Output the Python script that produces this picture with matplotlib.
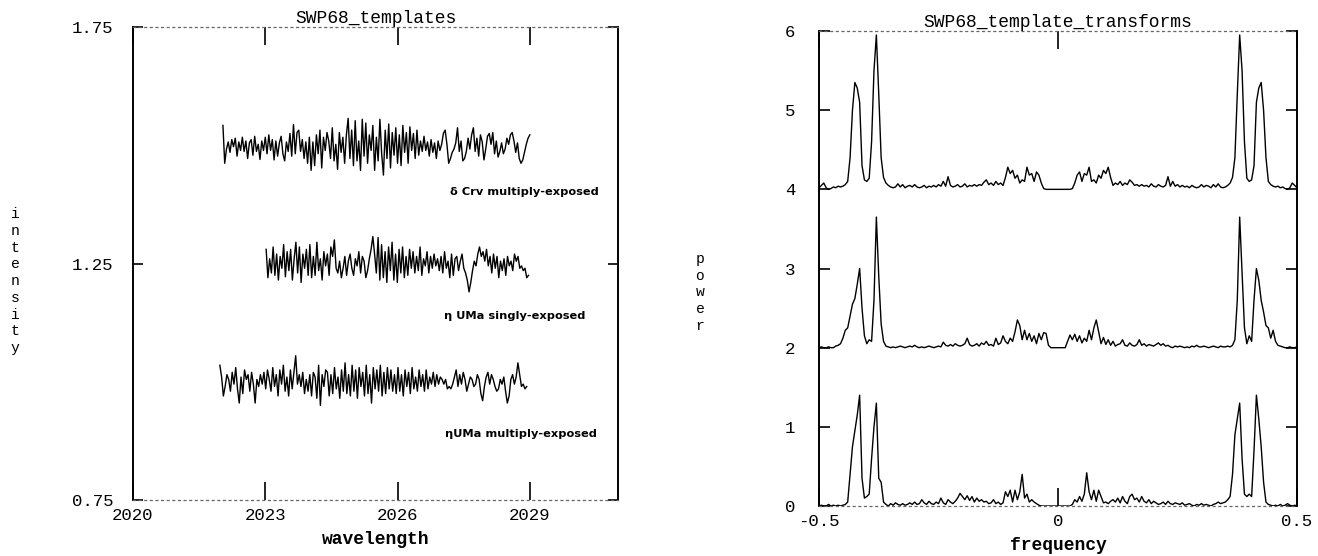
import numpy as np
import matplotlib
matplotlib.use("Agg")
import matplotlib.pyplot as plt

# ---- left panel: SWP68 templates (deviations from each trace base, in 0.001 intensity)
dcrv_range = (2022.04, 2029.0)
dcrv_base = 1.497
dcrv_dev = [
    45, -35, -5, 10, -12, 15, 0, 18, -20, 10, -8, 20, -10, 12, -25, 8, 15, -18, 22, -10, 5, -27, 12, -8, 20,
    -15, 25, -8, 15, -28, 12, -20, 8, 22, -15, -30, 10, -10, 28, -20, 47, -15, 30, 35, -10, 15, -25, 10, -35, 20,
    -50, 10, -40, 25, -15, 35, -45, 20, -8, 30, 12, -25, 40, -30, 5, -48, 30, -12, 20, -35, 25, 60, -25, 35, -40,
    55, -30, 12, -50, 58, -20, 50, -35, 25, -8, 45, -50, 20, -30, 58, -15, -60, 35, -25, 48, -45, 30, -18, 40, -35,
    25, -40, 45, -12, 30, -35, 42, -8, 28, -25, 35, -18, 12, -10, 22, -8, 10, -20, 15, -12, 8, -25, 12, -8, 5,
    28, 35, 5, -35, -25, -12, -5, 8, 40, -10, 12, -30, -25, -10, 18, -5, 25, 40, -10, 18, -20, 25, 10, -28, -5,
    22, 28, 5, 30, -15, 12, -22, -10, 8, -15, -5, 18, 5, 25, 30, 12, -12, 8, -25, -35, -28, -12, 5, 18, 25,
]

uma_single_range = (2023.02, 2028.97)
uma_single_base = 1.25
uma_single_dev = [
    30, -30, 10, -20, 35, -25, 20, -35, 15, -10, 40, -28, 25, -15, 30, -35, 10, 45, -20, 35, -40, 20, -10, 30, -25,
    40, -30, 15, -25, 45, -15, 10, -35, 25, -5, 20, -25, 35, 15, 50, -10, -20, 5, -30, -10, 15, -25, 5, 20, -10,
    -25, 10, -5, 25, -20, 15, 5, -30, -15, 10, 30, 57, 20, -20, 55, -35, 40, -30, 25, -40, 35, -15, 45, -35, 20,
    -40, 30, -20, 35, -30, 15, -25, 30, -10, 25, -20, 15, -15, 35, -25, 10, -5, 25, -20, 15, -10, 20, -5, 10, -15,
    15, -20, 25, -10, 5, -30, 20, -25, 10, 15, -15, 5, 20, -10, -20, -35, -60, -40, -15, 5, -5, 20, 35, 15, 25,
    5, 30, -5, 15, -20, 20, -10, 15, -30, 5, -15, 10, -25, 15, -5, 5, -15, 20, 5, 15, -10, -5, -15, -10, -30,
    -25,
]

uma_multi_range = (2021.97, 2028.93)
uma_multi_base = 1.0
uma_multi_dev = [
    35, 10, -30, -10, 15, 5, -20, 20, -5, 30, -15, -45, 10, -25, 25, 5, 15, -20, 20, -5, -45, 5, -10, 15, -5,
    20, -15, 25, 5, -20, 30, -10, 15, -30, 25, -5, 35, -20, 10, -30, 25, -15, 20, 55, -5, 15, -10, 20, -25, 5,
    -20, 15, -30, 20, 10, -35, 35, -50, 15, -10, 25, 20, -30, 15, -25, 30, -15, 10, -35, 25, -20, 40, -25, 15, -30,
    35, -20, 25, -35, 30, -10, 20, -30, 35, -25, 15, -45, 30, -15, 25, -20, 35, -30, 20, -25, 30, -15, 25, -20, 15,
    -25, 30, -20, 15, -30, 25, -10, 20, -25, 30, -15, 10, -20, 25, -10, 15, -20, 25, -15, 10, -5, 20, -10, 15, -5,
    10, 5, -5, 5, -15, -10, -15, -5, 10, 25, -10, 15, -5, 20, 5, -20, -5, 10, 5, -10, -5, 15, 5, -25, -40,
    -10, 10, 20, -5, 15, 5, -10, -20, -15, 5, -5, 10, -20, -45, -30, 5, 15, -5, 10, 40, 15, -10, -5, -15, -10,
]

template_labels = ["δ Crv multiply-exposed", "η UMa singly-exposed", "ηUMa multiply-exposed"]
label_pos = [(2027.19, 1.401), (2027.05, 1.140), (2027.07, 0.890)]

# ---- right panel: transforms (power above each offset, in 0.01), frequency -0.5..0.5
transform_offsets = [4, 2, 0]
power_dcrv = [
    2, 5, 8, 2, 0, 1, 3, 2, 4, 3,
    4, 6, 10, 40, 100, 135, 128, 110, 30, 12,
    10, 14, 60, 150, 195, 120, 40, 15, 8, 5,
    3, 2, 3, 7, 3, 6, 2, 4, 5, 3,
    6, 3, 2, 3, 5, 2, 4, 3, 5, 3,
    6, 4, 10, 4, 16, 5, 3, 4, 6, 3,
    4, 7, 3, 5, 4, 6, 4, 6, 5, 9,
    12, 6, 8, 5, 10, 6, 8, 5, 15, 28,
    20, 24, 14, 18, 8, 12, 10, 28, 18, 20,
    10, 22, 18, 8, 1, 0, 0, 0, 0, 0,
    0, 0, 0, 0, 0, 0, 1, 8, 18, 22,
    10, 20, 18, 28, 10, 12, 8, 18, 14, 24,
    20, 28, 15, 5, 8, 6, 10, 5, 8, 6,
    12, 9, 5, 6, 4, 6, 4, 5, 3, 7,
    4, 3, 6, 4, 3, 5, 16, 4, 10, 4,
    6, 3, 5, 3, 4, 2, 5, 3, 2, 3,
    6, 3, 5, 4, 2, 6, 3, 7, 3, 2,
    3, 5, 8, 15, 40, 120, 195, 150, 60, 14,
    10, 12, 30, 110, 128, 135, 100, 40, 10, 6,
    4, 3, 4, 2, 3, 1, 0, 2, 8, 5,
    2,
]
power_uma_single = [
    0, 1, 0, 0, 1, 0, 0, 2, 3, 5,
    12, 22, 25, 40, 55, 62, 80, 100, 50, 15,
    5, 10, 8, 60, 165, 90, 30, 8, 2, 1,
    0, 1, 0, 1, 2, 1, 0, 1, 2, 1,
    3, 1, 0, 1, 0, 1, 2, 1, 0, 1,
    2, 1, 7, 3, 2, 4, 2, 5, 3, 2,
    3, 5, 12, 4, 2, 3, 5, 2, 6, 4,
    8, 3, 4, 2, 12, 4, 6, 15, 8, 5,
    12, 8, 20, 35, 28, 10, 22, 10, 18, 8,
    15, 5, 18, 10, 19, 18, 3, 0, 0, 0,
    0, 0, 0, 0, 8, 16, 10, 17, 8, 15,
    6, 12, 8, 22, 10, 25, 35, 20, 5, 13,
    4, 10, 3, 8, 2, 4, 5, 10, 3, 2,
    6, 3, 2, 4, 10, 3, 5, 2, 4, 3,
    2, 4, 6, 3, 5, 2, 3, 1, 0, 2,
    1, 2, 1, 0, 1, 0, 2, 1, 3, 1,
    1, 2, 1, 0, 1, 2, 1, 0, 2, 1,
    1, 2, 1, 3, 10, 60, 165, 95, 25, 5,
    15, 8, 60, 100, 85, 60, 45, 28, 25, 12,
    22, 8, 3, 2, 1, 0, 0, 1, 0, 0,
    1,
]
power_uma_multi = [
    0, 1, 0, 0, 2, 0, 1, 0, 1, 0,
    1, 2, 5, 40, 75, 95, 115, 140, 35, 10,
    12, 15, 60, 100, 130, 35, 30, 5, 2, 0,
    3, 1, 4, 2, 1, 3, 1, 2, 4, 2,
    5, 2, 3, 8, 4, 2, 6, 3, 2, 5,
    3, 10, 4, 2, 8, 5, 3, 6, 10, 16,
    12, 8, 13, 7, 12, 5, 10, 6, 8, 5,
    6, 3, 4, 8, 3, 5, 2, 4, 18, 12,
    20, 5, 20, 8, 18, 40, 10, 15, 5, 8,
    5, 3, 1, 0, 0, 0, 0, 0, 0, 0,
    0, 0, 0, 0, 0, 0, 2, 8, 5, 12,
    6, 15, 42, 18, 8, 20, 6, 20, 12, 4,
    5, 3, 6, 8, 5, 10, 4, 12, 6, 3,
    12, 15, 8, 10, 5, 12, 6, 4, 8, 3,
    6, 4, 2, 3, 5, 2, 6, 3, 2, 4,
    3, 2, 4, 1, 2, 3, 1, 0, 2, 1,
    3, 1, 2, 1, 0, 2, 3, 5, 3, 4,
    5, 8, 12, 40, 90, 110, 130, 60, 15, 12,
    15, 12, 70, 140, 110, 75, 30, 5, 2, 1,
    0, 1, 0, 2, 0, 1, 3, 1, 0, 1,
    0,
]

plt.rcParams["font.family"] = ["Liberation Mono", "DejaVu Sans Mono"]


def style_axes(ax):
    for side in ("left", "right"):
        ax.spines[side].set_linewidth(1.4)
    for side in ("top", "bottom"):
        ax.spines[side].set_linestyle((0, (1.5, 3)))
        ax.spines[side].set_linewidth(0.9)
        ax.spines[side].set_color("0.4")
    ax.tick_params(direction="in", top=True, right=True, labelsize=12.5, width=1.2)
    ax.tick_params(axis="x", length=13, pad=6)


fig = plt.figure(figsize=(13.18, 5.56), dpi=100)
ax1 = fig.add_axes([0.1009, 0.1007, 0.368, 0.8507])
ax2 = fig.add_axes([0.6214, 0.0899, 0.3627, 0.8543])

# left panel
traces = [(dcrv_range, dcrv_base, dcrv_dev),
          (uma_single_range, uma_single_base, uma_single_dev),
          (uma_multi_range, uma_multi_base, uma_multi_dev)]
for (lo, hi), base, dev in traces:
    wl = np.linspace(lo, hi, len(dev))
    ax1.plot(wl, base + np.array(dev) / 1000.0, color="black", lw=1.0)

for label, (lx, ly) in zip(template_labels, label_pos):
    ax1.text(lx, ly, label, ha="left", va="center", fontsize=8.2, fontweight="bold",
             family=["Liberation Sans Narrow", "DejaVu Sans"])

ax1.set_xlim(2020, 2031)
ax1.set_ylim(0.75, 1.75)
ax1.set_xticks([2020, 2023, 2026, 2029])
ax1.set_yticks([0.75, 1.25, 1.75])
ax1.set_yticklabels(["0.75", "1.25", "1.75"])
style_axes(ax1)
ax1.tick_params(axis="y", length=7, pad=14)
ax1.set_title("SWP68_templates", fontsize=13, pad=3)
ax1.set_xlabel("wavelength", fontsize=13, fontweight="bold")
ax1.xaxis.set_label_coords(0.5, -0.066)
ax1.set_ylabel("\n".join("intensity"), rotation=0, fontsize=10.5, linespacing=1.25,
               va="center", ha="center")
ax1.yaxis.set_label_coords(-0.243, 0.463)

# right panel
freq = np.linspace(-0.5, 0.5, len(power_dcrv))
for off, pw in zip(transform_offsets, [power_dcrv, power_uma_single, power_uma_multi]):
    ax2.plot(freq, off + np.array(pw) / 100.0, color="black", lw=1.0)

ax2.set_xlim(-0.5, 0.5)
ax2.set_ylim(0, 6)
ax2.set_xticks([-0.5, 0, 0.5])
ax2.set_xticklabels(["-0.5", "0", "0.5"])
ax2.set_yticks([0, 1, 2, 3, 4, 5, 6])
style_axes(ax2)
ax2.tick_params(axis="y", length=8, pad=17)
ax2.set_title("SWP68_template_transforms", fontsize=13, pad=3)
ax2.set_xlabel("frequency", fontsize=13, fontweight="bold")
ax2.xaxis.set_label_coords(0.5, -0.066)
ax2.set_ylabel("\n".join("power"), rotation=0, fontsize=10.5, linespacing=1.25,
               va="center", ha="center")
ax2.yaxis.set_label_coords(-0.249, 0.45)

fig.savefig("out.png", dpi=100)
